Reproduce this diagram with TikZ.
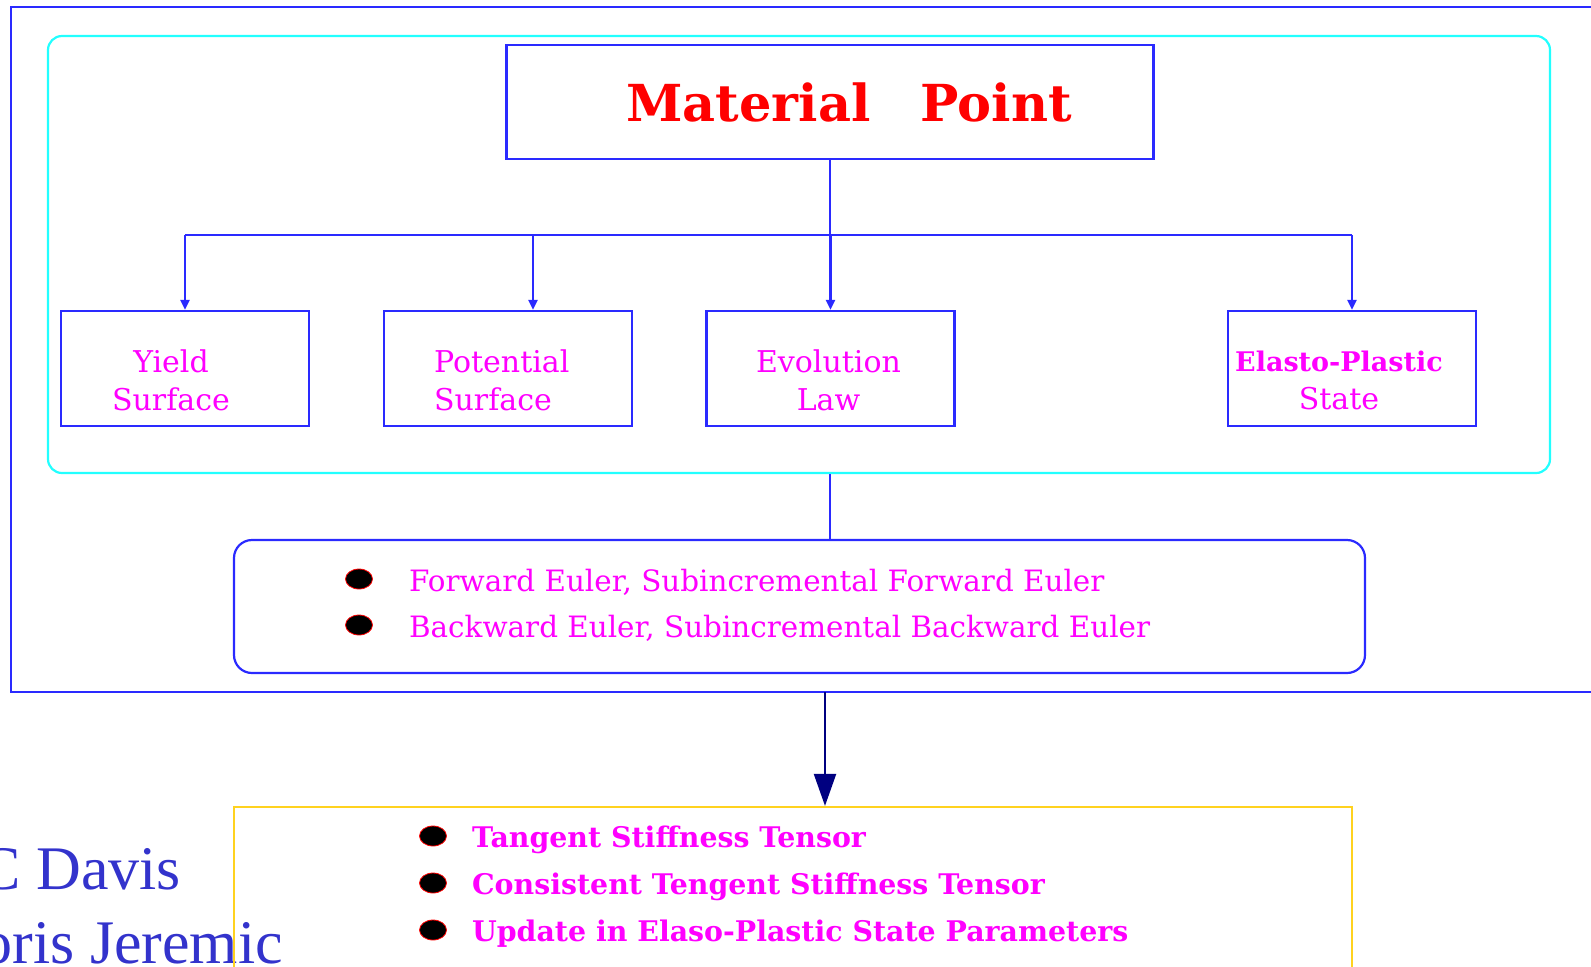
\documentclass[tikz,border=0pt]{standalone}
\usepackage{fontspec}
\setmainfont{Liberation Serif}
\newfontfamily\slabfont{DejaVu Serif}
\usepackage{tikz}
\usetikzlibrary{arrows.meta,positioning,shapes.geometric}
\definecolor{FrameBlue}  {HTML}{2A2AFF}
\definecolor{GroupCyan}  {HTML}{22FFFF}
\definecolor{TitleRed}   {HTML}{FF0000}
\definecolor{LabelPink}  {HTML}{FF00FF}
\definecolor{ArrowNavy}  {HTML}{000080}
\definecolor{ResultGold} {HTML}{FFD21F}
\definecolor{NameBlue}   {HTML}{3333CC}

\begin{document}
\begin{tikzpicture}[x=0.5pt,y=-0.5pt,line width=1.1pt,
  partbox/.style={draw=FrameBlue,minimum width=124pt,minimum height=57.5pt,inner sep=0pt},
  parttext/.style={inner sep=0pt,text=LabelPink,font=\slabfont\fontsize{15}{19}\selectfont,align=center},
  feed/.style={draw=FrameBlue,-{Triangle[width=4.5pt,length=5pt]}},
  dot/.style={ellipse,fill=black,draw=red,line width=0.4pt,minimum width=13.5pt,minimum height=10pt,inner sep=0pt},
  item/.style={anchor=base west,inner sep=0pt,text=LabelPink,font=\slabfont\fontsize{14.7}{18}\selectfont},
  signame/.style={anchor=base west,inner sep=0pt,text=NameBlue,font=\fontsize{31}{36}\selectfont}]
  \useasboundingbox (0,0) rectangle (1591,966);
  \clip (0,0) rectangle (1591,966);

  % frames
  \node[draw=FrameBlue,minimum width=794.5pt,minimum height=342.5pt,inner sep=0pt] (frame) at (805.5,349.5) {};
  \node[draw=GroupCyan,rounded corners=7pt,minimum width=751pt,minimum height=218.5pt,inner sep=0pt] (group) at (799,254.5) {};

  % material point and its parts
  \node[draw=FrameBlue,minimum width=323.5pt,minimum height=57pt,inner sep=0pt,text=TitleRed,
        font=\slabfont\bfseries\fontsize{25.5}{30}\selectfont] (mp) at (830,102) {\hspace*{19pt}Material\hspace{25pt}Point};
  \node[partbox] (yield)     at (185,368.5)   {};
  \node[partbox] (potential) at (508,368.5)   {};
  \node[partbox] (evolution) at (830.5,368.5) {};
  \node[partbox] (elasto)    at (1352,368.5)  {};
  \node[parttext] (yieldtext) at ([xshift=-7pt,yshift=-5.75pt]yield.center) {Yield\\Surface};
  \node[parttext,align=left,anchor=west] (potentialtext) at ([yshift=-5.75pt]potential.center -| 433,0) {Potential\\Surface};
  \node[parttext] (evolutiontext) at ([xshift=-1pt,yshift=-5.75pt]evolution.center) {Evolution\\Law};
  \node[parttext] (elastotext) at ([xshift=-6.5pt,yshift=-5.75pt]elasto.center) {{\bfseries\fontsize{13.5}{19}\selectfont Elasto-Plastic}\\State};

  % integration methods
  \node[draw=FrameBlue,rounded corners=9pt,minimum width=565.5pt,minimum height=66.5pt,inner sep=0pt] (methods) at (799.5,606.5) {};
  \foreach \y/\txt [count=\i] in {591/{Forward Euler, Subincremental Forward Euler},
                                  637/{Backward Euler, Subincremental Backward Euler}}{
    \node[dot] (m\i dot) at (359,\y-12) {};
    \node[item] (m\i) at (408,\y) {\txt};
  }

  % names
  \node[signame] (school) at (-21.5,889) {C Davis};
  \node[signame] (author) at (-19.5,963) {oris Jeremic};

  % results
  \node[draw=ResultGold,minimum width=559pt,minimum height=86.5pt,inner sep=0pt] (result) at (793,893.5) {};
  \foreach \y/\txt [count=\i] in {847/{Tangent Stiffness Tensor},
                                  894/{Consistent Tengent Stiffness Tensor},
                                  941/{Update in Elaso-Plastic State Parameters}}{
    \node[dot] (r\i dot) at (433,\y-11) {};
    \node[item,font=\slabfont\bfseries\fontsize{14.2}{18}\selectfont] (r\i) at (471,\y) {\txt};
  }

  % connectors
  \coordinate (bus) at (0,235);
  \coordinate (potin) at ([xshift=12.5pt]potential.north);
  \draw[FrameBlue] (mp.south) -- (mp.south |- bus);
  \draw[FrameBlue] (bus -| yield.north) -- (bus -| elasto.north);
  \draw[feed] (bus -| yield.north) -- (yield.north);
  \draw[feed] (bus -| potin) -- (potin);
  \draw[feed] (bus -| evolution.north) -- (evolution.north);
  \draw[feed] (bus -| elasto.north) -- (elasto.north);
  \draw[FrameBlue] (mp.south |- group.south) -- (mp.south |- methods.north);
  \coordinate (drop) at (825,692);
  \draw[ArrowNavy,-{Triangle[width=11pt,length=16pt]}] (drop) -- (drop |- result.north);
\end{tikzpicture}
\end{document}
